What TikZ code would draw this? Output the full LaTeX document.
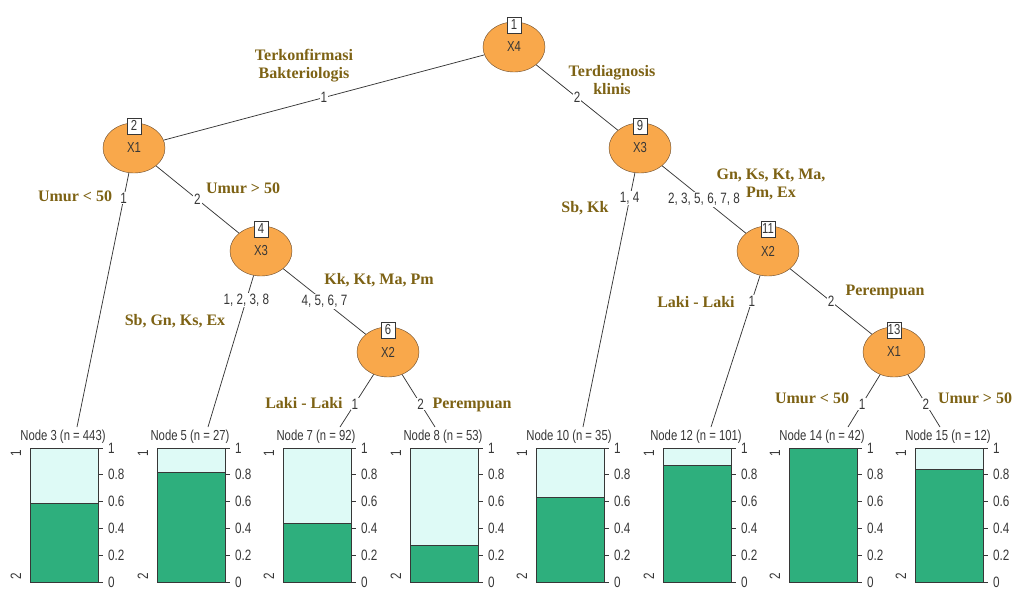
\documentclass[tikz,border=0pt]{standalone}
\usepackage{fontspec}
\setmainfont{Liberation Serif}
\newfontfamily\rsans[FakeStretch=0.78]{Liberation Sans}
\usepackage{tikz}
\usetikzlibrary{calc,positioning,shapes.geometric}

\definecolor{nodeorange}{RGB}{249,168,75}
\definecolor{nodeedge}{RGB}{100,70,40}
\definecolor{splitgold}{RGB}{125,98,20}
\definecolor{bardark}{RGB}{46,175,125}
\definecolor{barlight}{RGB}{222,250,246}
\definecolor{inkgray}{RGB}{55,55,55}

\tikzset{
  inner/.style={ellipse,draw=nodeedge,fill=nodeorange,minimum width=62pt,minimum height=50pt,
    inner sep=0pt,font=\rsans\fontsize{14.5}{15}\selectfont,text=inkgray},
  idbox/.style={draw=inkgray,fill=white,minimum width=14pt,minimum height=16pt,inner sep=1pt,
    font=\rsans\fontsize{14.5}{15}\selectfont,text=inkgray},
  branch/.style={draw=inkgray,line width=0.75pt},
  elab/.style={fill=white,inner sep=1pt,font=\rsans\fontsize{15}{15}\selectfont,text=inkgray},
  note/.style={font=\bfseries\fontsize{16}{18}\selectfont,text=splitgold,align=center},
  ttl/.style={fill=white,inner sep=0.5pt,font=\rsans\fontsize{14.5}{15}\selectfont,text=inkgray},
  axlab/.style={inner sep=0pt,font=\rsans\fontsize{15}{15}\selectfont,text=inkgray},
}

\begin{document}
\begin{tikzpicture}[x=1pt,y=-1pt]
  \useasboundingbox (0,0) rectangle (1018,592);
  \def\bw{68}
  \def\bh{134}

  % inner nodes
  \node[inner] (n1) at (514,47) {X4};
  \node[inner] (n2) at (134,148) {X1};
  \node[inner] (n4) at (261,251) {X3};
  \node[inner] (n6) at (388,352) {X2};
  \node[inner] (n9) at (640,148) {X3};
  \node[inner] (n11) at (768,251) {X2};
  \node[inner] (n13) at (894,352) {X1};
  \foreach \k in {1,2,4,6,9,11,13}
    \node[idbox] (b\k) at ([yshift=-3pt]n\k.north) {\k};

  % terminal panels
  \foreach \x/\k/\n/\p/\e in {30/3/443/0.585/77, 157/5/27/0.82/208, 283/7/92/0.44/340,
      410/8/53/0.27/435, 536/10/35/0.635/583, 663/12/101/0.87/711, 789/14/42/1.0/848,
      915/15/12/0.84/940}{
    \fill[barlight] (\x,448) rectangle ++(\bw,\bh);
    \fill[bardark] (\x,582) rectangle ({\x+\bw},{582-\bh*\p});
    \draw[inkgray,line width=0.75pt] (\x,{582-\bh*\p}) -- ++(\bw,0);
    \draw[inkgray,line width=0.75pt] (\x,448) rectangle ++(\bw,\bh);
    \foreach \t/\s in {0/0,1/0.2,2/0.4,3/0.6,4/0.8,5/1}{
      \draw[inkgray,line width=0.75pt] ({\x+\bw},{582-26.8*\t}) -- ++(5,0);
      \node[axlab,anchor=west] at ({\x+\bw+10},{582-26.8*\t}) {\s};
    }
    \node[axlab,rotate=90] at ({\x-14},453) {1};
    \node[axlab,rotate=90] at ({\x-14},576) {2};
    \coordinate (e\k) at (\e,427);
    \node[ttl] (t\k) at ({\x+33},436.5) {Node \k\ (n = \n)};
  }

  % branches
  \draw[branch] (n1) -- node[elab] {1} (n2);
  \draw[branch] (n1) -- node[elab] {2} (n9);
  \draw[branch] (n2) -- node[elab,pos=0.1] {1} (e3);
  \draw[branch] (n2) -- node[elab] {2} (n4);
  \draw[branch] (n4) -- node[elab,pos=0.16] {1, 2, 3, 8} (e5);
  \draw[branch] (n4) -- node[elab] {4, 5, 6, 7} (n6);
  \draw[branch] (n6) -- node[elab,pos=0.56] {1} (e7);
  \draw[branch] (n6) -- node[elab,pos=0.56] {2} (e8);
  \draw[branch] (n9) -- node[elab,pos=0.1] {1, 4} (e10);
  \draw[branch] (n9) -- node[elab] {2, 3, 5, 6, 7, 8} (n11);
  \draw[branch] (n11) -- node[elab,pos=0.17] {1} (e12);
  \draw[branch] (n11) -- node[elab] {2} (n13);
  \draw[branch] (n13) -- node[elab,pos=0.56] {1} (e14);
  \draw[branch] (n13) -- node[elab,pos=0.56] {2} (e15);

  % split descriptions
  \node[note] (s1) at (304,66) {Terkonfirmasi\\Bakteriologis};
  \node[note] (s2) at (612,80) {Terdiagnosis\\klinis};
  \node[note] (s3) at (75,196) {Umur < 50};
  \node[note] (s4) at (243,188) {Umur > 50};
  \node[note] (s5) at (379,280) {Kk, Kt, Ma, Pm};
  \node[note] (s6) at (175,321) {Sb, Gn, Ks, Ex};
  \node[note] (s7) at (304,403) {Laki - Laki};
  \node[note] (s8) at (472,405) {Perempuan};
  \node[note] (s9) at (585,208) {Sb, Kk};
  \node[note] (s10) at (771,184) {Gn, Ks, Kt, Ma,\\Pm, Ex};
  \node[note] (s11) at (696,302) {Laki - Laki};
  \node[note] (s12) at (885,292) {Perempuan};
  \node[note] (s13) at (812,398) {Umur < 50};
  \node[note] (s14) at (975,398) {Umur > 50};
\end{tikzpicture}
\end{document}
